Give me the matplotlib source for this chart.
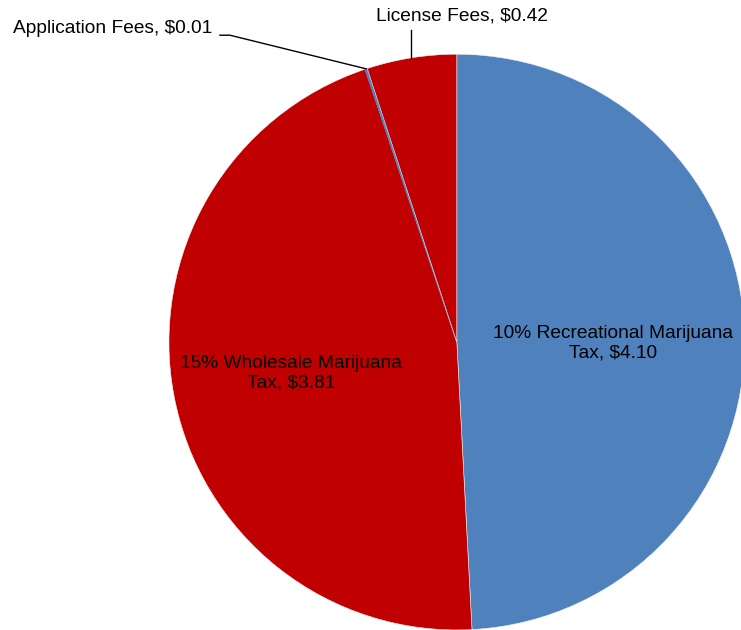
import numpy as np
import matplotlib
matplotlib.use('Agg')
import matplotlib.pyplot as plt

plt.rcParams['font.family'] = ['Liberation Sans', 'DejaVu Sans']

# slices in clockwise order from 12 o'clock
labels = ['10% Recreational Marijuana\nTax, $4.10',
          '15% Wholesale Marijuana\nTax, $3.81',
          'Application Fees, $0.01',
          'License Fees, $0.42']
values = [4.10, 3.81, 0.01, 0.42]
colors = ['#4F81BD', '#C00000', '#4F81BD', '#C00000']

fig = plt.figure(figsize=(7.41, 6.30), dpi=100)
ax = fig.add_axes([0.228, 0.0, 0.777, 0.914])
wedges, _ = ax.pie(values, colors=colors, startangle=90, counterclock=False,
                   radius=1.0, wedgeprops=dict(edgecolor='#f2f2f2', linewidth=0.4))
for w in wedges:
    w.set_clip_on(False)
# the tiny slice would vanish under a white edge
wedges[2].set_edgecolor(colors[2])
wedges[2].set_linewidth(0.8)
ax.set_xlim(-1, 1)
ax.set_ylim(-1, 1)
ax.set_aspect('equal')
ax.axis('off')


def rim_point(i):
    total = sum(values)
    start = 90 - sum(values[:i]) / total * 360
    mid = np.deg2rad(start - values[i] / total * 180)
    return np.cos(mid), np.sin(mid)


fs = 13.8
ax.text(0.542, -0.003, labels[0], ha='center', va='center', fontsize=fs, clip_on=False)
ax.text(-0.576, -0.108, labels[1], ha='center', va='center', fontsize=fs, clip_on=False)

# License fees: vertical leader
lx, ly = rim_point(3)
ax.plot([lx, lx], [ly, 1.085], color='black', lw=1, clip_on=False)
ax.text(-0.281, 1.132, labels[3], ha='left', va='center', fontsize=fs, clip_on=False)

# Application fees: elbow leader
axp, ayp = rim_point(2)
ax.plot([-0.823, -0.788, axp], [1.066, 1.066, ayp], color='black', lw=1, clip_on=False)
ax.text(-0.850, 1.090, labels[2], ha='right', va='center', fontsize=fs, clip_on=False)

fig.savefig('out.png', dpi=100)
